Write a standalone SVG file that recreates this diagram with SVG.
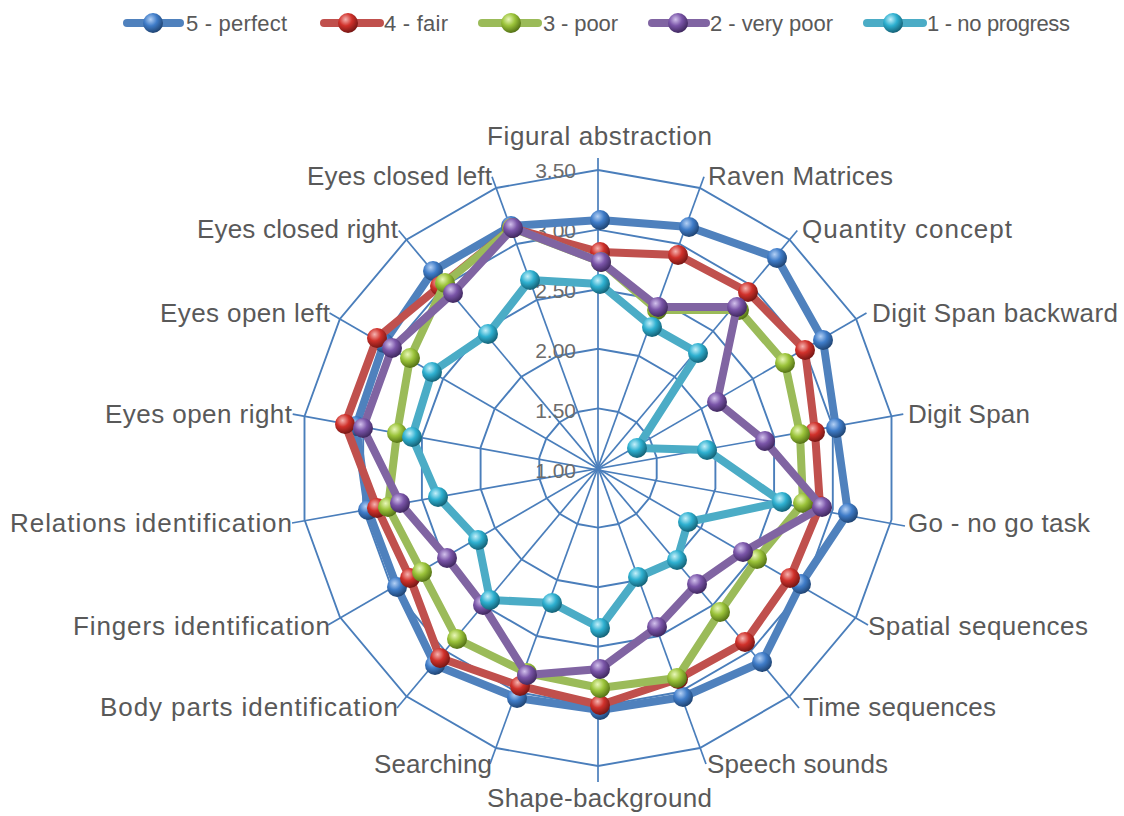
<svg xmlns="http://www.w3.org/2000/svg" xmlns:xlink="http://www.w3.org/1999/xlink" width="1124" height="816" viewBox="0 0 1124 816">
<style>
.grid{fill:none;stroke:#4a7ebb;stroke-width:1.9;stroke-linejoin:miter}
.axis{stroke:#4a7ebb;stroke-width:1.7}
.ser{fill:none;stroke-width:8;stroke-linejoin:round}
.lbl{font-family:"Liberation Sans",Arial,sans-serif;font-size:26px;fill:#595959}
.tick{font-family:"Liberation Sans",Arial,sans-serif;font-size:21px;fill:#6b6b6b;text-anchor:end}
.leg{font-family:"Liberation Sans",Arial,sans-serif;font-size:22px;fill:#595959}
.legl{stroke-width:8;stroke-linecap:round}
</style>
<defs>
<radialGradient id="gb" cx="0.38" cy="0.32" r="0.72"><stop offset="0" stop-color="#b3d0f5"/><stop offset="0.45" stop-color="#3f7cc8"/><stop offset="1" stop-color="#1d3f6b"/></radialGradient>
<radialGradient id="gr" cx="0.38" cy="0.32" r="0.72"><stop offset="0" stop-color="#f5b3b0"/><stop offset="0.45" stop-color="#d0312b"/><stop offset="1" stop-color="#6e1412"/></radialGradient>
<radialGradient id="gg" cx="0.38" cy="0.32" r="0.72"><stop offset="0" stop-color="#e8f7b8"/><stop offset="0.45" stop-color="#9bc33a"/><stop offset="1" stop-color="#4d6a12"/></radialGradient>
<radialGradient id="gp" cx="0.38" cy="0.32" r="0.72"><stop offset="0" stop-color="#d2c1ec"/><stop offset="0.45" stop-color="#7a55a8"/><stop offset="1" stop-color="#3a2458"/></radialGradient>
<radialGradient id="gt" cx="0.38" cy="0.32" r="0.72"><stop offset="0" stop-color="#c4f0fa"/><stop offset="0.45" stop-color="#2eb0d0"/><stop offset="1" stop-color="#125a6e"/></radialGradient>
<circle id="mb" r="10" fill="url(#gb)"/>
<circle id="mr" r="10" fill="url(#gr)"/>
<circle id="mg" r="10" fill="url(#gg)"/>
<circle id="mp" r="10" fill="url(#gp)"/>
<circle id="mt" r="10" fill="url(#gt)"/>
</defs>
<rect width="1124" height="816" fill="#ffffff"/>

<g id="legend">
<g id="leg5"><line class="legl" x1="127" y1="23" x2="180" y2="23" stroke="#4f81bd"/><use href="#mb" x="153" y="23"/><text class="leg" x="186" y="31" textLength="101">5 - perfect</text></g>
<g id="leg4"><line class="legl" x1="324" y1="23" x2="380" y2="23" stroke="#c0504d"/><use href="#mr" x="348" y="23"/><text class="leg" x="384" y="31" textLength="64">4 - fair</text></g>
<g id="leg3"><line class="legl" x1="482" y1="23" x2="538" y2="23" stroke="#9bbb59"/><use href="#mg" x="511" y="23"/><text class="leg" x="543" y="31" textLength="75">3 - poor</text></g>
<g id="leg2"><line class="legl" x1="652" y1="23" x2="706" y2="23" stroke="#8064a2"/><use href="#mp" x="678" y="23"/><text class="leg" x="710" y="31" textLength="123">2 - very poor</text></g>
<g id="leg1"><line class="legl" x1="867" y1="23" x2="923" y2="23" stroke="#4bacc6"/><use href="#mt" x="893" y="23"/><text class="leg" x="927" y="31" textLength="143">1 - no progress</text></g>
</g>

<g id="grid" transform="translate(598,468)">
<polygon class="grid" points="0,-59.6 20.4,-56 38.3,-45.7 51.6,-29.8 58.7,-10.3 58.7,10.3 51.6,29.8 38.3,45.7 20.4,56 0,59.6 -20.4,56 -38.3,45.7 -51.6,29.8 -58.7,10.3 -58.7,-10.3 -51.6,-29.8 -38.3,-45.7 -20.4,-56"/>
<polygon class="grid" points="0,-119.2 40.8,-112 76.6,-91.3 103.2,-59.6 117.4,-20.7 117.4,20.7 103.2,59.6 76.6,91.3 40.8,112 0,119.2 -40.8,112 -76.6,91.3 -103.2,59.6 -117.4,20.7 -117.4,-20.7 -103.2,-59.6 -76.6,-91.3 -40.8,-112"/>
<polygon class="grid" points="0,-178.8 61.2,-168 114.9,-137 154.8,-89.4 176.1,-31 176.1,31 154.8,89.4 114.9,137 61.2,168 0,178.8 -61.2,168 -114.9,137 -154.8,89.4 -176.1,31 -176.1,-31 -154.8,-89.4 -114.9,-137 -61.2,-168"/>
<polygon class="grid" points="0,-238.4 81.5,-224 153.2,-182.6 206.5,-119.2 234.8,-41.4 234.8,41.4 206.5,119.2 153.2,182.6 81.5,224 0,238.4 -81.5,224 -153.2,182.6 -206.5,119.2 -234.8,41.4 -234.8,-41.4 -206.5,-119.2 -153.2,-182.6 -81.5,-224"/>
<polygon class="grid" points="0,-298 101.9,-280 191.6,-228.3 258.1,-149 293.5,-51.7 293.5,51.7 258.1,149 191.6,228.3 101.9,280 0,298 -101.9,280 -191.6,228.3 -258.1,149 -293.5,51.7 -293.5,-51.7 -258.1,-149 -191.6,-228.3 -101.9,-280"/>
<line class="axis" x1="0" y1="-310" x2="0" y2="314"/>
<line class="axis" x1="106" y1="-291.3" x2="-108" y2="296"/>
<line class="axis" x1="199.3" y1="-237.5" x2="-201" y2="240"/>
<line class="axis" x1="268.5" y1="-155" x2="-270" y2="157"/>
<line class="axis" x1="305.3" y1="-53.8" x2="-306" y2="55"/>
<line class="axis" x1="307" y1="58" x2="-305.3" y2="-53.8"/>
<line class="axis" x1="270" y1="157" x2="-268.5" y2="-155"/>
<line class="axis" x1="201" y1="240" x2="-199.3" y2="-237.5"/>
<line class="axis" x1="108" y1="296" x2="-106" y2="-291.3"/>
</g>

<g id="ticks">
<text class="tick" x="576" y="178">3.50</text>
<text class="tick" x="576" y="238">3.00</text>
<text class="tick" x="576" y="298">2.50</text>
<text class="tick" x="576" y="358">2.00</text>
<text class="tick" x="576" y="418">1.50</text>
<text class="tick" x="576" y="478">1.00</text>
</g>

<g id="labels">
<text id="ax0" class="lbl" x="487" y="145" textLength="225">Figural abstraction</text>
<text id="ax1" class="lbl" x="708" y="185" textLength="185">Raven Matrices</text>
<text id="ax2" class="lbl" x="802" y="238" textLength="210">Quantity concept</text>
<text id="ax3" class="lbl" x="872" y="322" textLength="246">Digit Span backward</text>
<text id="ax4" class="lbl" x="908" y="423" textLength="122">Digit Span</text>
<text id="ax5" class="lbl" x="908" y="532" textLength="182">Go - no go task</text>
<text id="ax6" class="lbl" x="868" y="635" textLength="220">Spatial sequences</text>
<text id="ax7" class="lbl" x="803" y="716" textLength="193">Time sequences</text>
<text id="ax8" class="lbl" x="707" y="773" textLength="181">Speech sounds</text>
<text id="ax9" class="lbl" x="487" y="807" textLength="225">Shape-background</text>
<text id="ax10" class="lbl" x="374" y="773" textLength="118">Searching</text>
<text id="ax11" class="lbl" x="100" y="716" textLength="298">Body parts identification</text>
<text id="ax12" class="lbl" x="73" y="635" textLength="257">Fingers identification</text>
<text id="ax13" class="lbl" x="10" y="532" textLength="282">Relations identification</text>
<text id="ax14" class="lbl" x="105" y="423" textLength="187">Eyes open right</text>
<text id="ax15" class="lbl" x="160" y="322" textLength="170">Eyes open left</text>
<text id="ax16" class="lbl" x="197" y="238" textLength="201">Eyes closed right</text>
<text id="ax17" class="lbl" x="307" y="185" textLength="185">Eyes closed left</text>
</g>

<g id="series">
<g id="s5">
<polygon class="ser" stroke="#4f81bd" points="600,220 689,227 777,258 823,340 836,428 848,513 801,584 762,662 683,697 600,710 517,698 435,665 397,587 368,510 356,426 384,343 433,271 511,226"/>
<use href="#mb" x="600" y="220"/><use href="#mb" x="689" y="227"/><use href="#mb" x="777" y="258"/><use href="#mb" x="823" y="340"/><use href="#mb" x="836" y="428"/><use href="#mb" x="848" y="513"/><use href="#mb" x="801" y="584"/><use href="#mb" x="762" y="662"/><use href="#mb" x="683" y="697"/><use href="#mb" x="600" y="710"/><use href="#mb" x="517" y="698"/><use href="#mb" x="435" y="665"/><use href="#mb" x="397" y="587"/><use href="#mb" x="368" y="510"/><use href="#mb" x="356" y="426"/><use href="#mb" x="384" y="343"/><use href="#mb" x="433" y="271"/><use href="#mb" x="511" y="226"/>
</g>
<g id="s4">
<polygon class="ser" stroke="#c0504d" points="600,252 678,255 748,292 805,350 815,432 820,506 790,578 745,642 678,679 600,705 520,686 440,658 410,578 377,508 345,424 377,338 440,286 512,228"/>
<use href="#mr" x="600" y="252"/><use href="#mr" x="678" y="255"/><use href="#mr" x="748" y="292"/><use href="#mr" x="805" y="350"/><use href="#mr" x="815" y="432"/><use href="#mr" x="820" y="506"/><use href="#mr" x="790" y="578"/><use href="#mr" x="745" y="642"/><use href="#mr" x="678" y="679"/><use href="#mr" x="600" y="705"/><use href="#mr" x="520" y="686"/><use href="#mr" x="440" y="658"/><use href="#mr" x="410" y="578"/><use href="#mr" x="377" y="508"/><use href="#mr" x="345" y="424"/><use href="#mr" x="377" y="338"/><use href="#mr" x="440" y="286"/><use href="#mr" x="512" y="228"/>
</g>
<g id="s3">
<polygon class="ser" stroke="#9bbb59" points="601,262 657,310 739,310 785,363 800,434 803,503 757,559 720,612 677,678 600,688 527,673 457,639 422,572 388,507 397,433 410,358 445,283 512,228"/>
<use href="#mg" x="601" y="262"/><use href="#mg" x="657" y="310"/><use href="#mg" x="739" y="310"/><use href="#mg" x="785" y="363"/><use href="#mg" x="800" y="434"/><use href="#mg" x="803" y="503"/><use href="#mg" x="757" y="559"/><use href="#mg" x="720" y="612"/><use href="#mg" x="677" y="678"/><use href="#mg" x="600" y="688"/><use href="#mg" x="527" y="673"/><use href="#mg" x="457" y="639"/><use href="#mg" x="422" y="572"/><use href="#mg" x="388" y="507"/><use href="#mg" x="397" y="433"/><use href="#mg" x="410" y="358"/><use href="#mg" x="445" y="283"/><use href="#mg" x="512" y="228"/>
</g>
<g id="s2">
<polygon class="ser" stroke="#8064a2" points="601,262 658,307 737,307 717,402 765,441 822,507 743,552 697,584 657,627 600,669 527,675 483,605 447,558 400,503 363,428 392,348 453,293 513,228"/>
<use href="#mp" x="601" y="262"/><use href="#mp" x="658" y="307"/><use href="#mp" x="737" y="307"/><use href="#mp" x="717" y="402"/><use href="#mp" x="765" y="441"/><use href="#mp" x="822" y="507"/><use href="#mp" x="743" y="552"/><use href="#mp" x="697" y="584"/><use href="#mp" x="657" y="627"/><use href="#mp" x="600" y="669"/><use href="#mp" x="527" y="675"/><use href="#mp" x="483" y="605"/><use href="#mp" x="447" y="558"/><use href="#mp" x="400" y="503"/><use href="#mp" x="363" y="428"/><use href="#mp" x="392" y="348"/><use href="#mp" x="453" y="293"/><use href="#mp" x="513" y="228"/>
</g>
<g id="s1">
<polygon class="ser" stroke="#4bacc6" points="600,284 652,327 698,353 637,448 707,450 782,502 688,522 677,560 638,577 600,628 552,603 490,600 478,540 438,497 412,437 432,372 488,334 530,280"/>
<use href="#mt" x="600" y="284"/><use href="#mt" x="652" y="327"/><use href="#mt" x="698" y="353"/><use href="#mt" x="637" y="448"/><use href="#mt" x="707" y="450"/><use href="#mt" x="782" y="502"/><use href="#mt" x="688" y="522"/><use href="#mt" x="677" y="560"/><use href="#mt" x="638" y="577"/><use href="#mt" x="600" y="628"/><use href="#mt" x="552" y="603"/><use href="#mt" x="490" y="600"/><use href="#mt" x="478" y="540"/><use href="#mt" x="438" y="497"/><use href="#mt" x="412" y="437"/><use href="#mt" x="432" y="372"/><use href="#mt" x="488" y="334"/><use href="#mt" x="530" y="280"/>
</g>
</g>
</svg>
